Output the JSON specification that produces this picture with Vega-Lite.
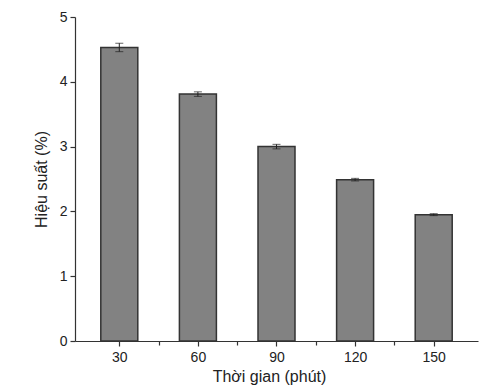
{
  "$schema": "https://vega.github.io/schema/vega-lite/v6.json",
  "autosize": {"type": "none"},
  "padding": {"left": 75, "top": 17, "right": 4, "bottom": 47},
  "width": 403,
  "height": 324,
  "background": "white",
  "config": {
    "view": {"stroke": null},
    "axis": {"labelFont": "Liberation Sans", "titleFont": "Liberation Sans", "labelColor": "#222", "titleColor": "#222", "domainColor": "#333", "tickColor": "#333", "grid": false, "titleFontWeight": "normal"}
  },
  "data": {
    "values": [
      {"time": 30, "value": 4.53, "err": 0.065},
      {"time": 60, "value": 3.81, "err": 0.035},
      {"time": 90, "value": 3.0, "err": 0.035},
      {"time": 120, "value": 2.49, "err": 0.02},
      {"time": 150, "value": 1.95, "err": 0.015}
    ]
  },
  "layer": [
    {
      "mark": {"type": "bar", "size": 37, "color": "#828282", "stroke": "#333", "strokeWidth": 1.5},
      "encoding": {
        "x": {
          "field": "time", "type": "quantitative", "title": "Thời gian (phút)",
          "scale": {"domain": [15, 165], "nice": false, "zero": false},
          "axis": {
            "values": [30, 45, 60, 75, 90, 105, 120, 135, 150],
            "labelExpr": "datum.value % 30 === 0 ? format(datum.value, 'd') : ''",
            "tickSize": {"condition": {"test": "datum.value % 30 === 0", "value": 5}, "value": 4},
            "labelFontSize": 14,
            "labelPadding": 4,
            "titleFontSize": 16,
            "titlePadding": 4,
            "titleX": 194,
            "domainWidth": 1.2,
            "tickWidth": 1.2
          }
        },
        "y": {
          "field": "value", "type": "quantitative", "title": "Hiệu suất (%)",
          "scale": {"domain": [0, 5], "nice": false},
          "axis": {
            "values": [0, 0.5, 1, 1.5, 2, 2.5, 3, 3.5, 4, 4.5, 5],
            "labelExpr": "datum.value % 1 === 0 ? format(datum.value, 'd') : ''",
            "tickSize": {"condition": {"test": "datum.value % 1 === 0", "value": 5}, "value": 4},
            "labelFontSize": 14,
            "labelPadding": 3,
            "titleFontSize": 16,
            "titlePadding": 10,
            "domainWidth": 1.2,
            "tickWidth": 1.2
          }
        }
      }
    },
    {
      "mark": {"type": "errorbar", "ticks": {"size": 8, "color": "#222"}, "rule": {"color": "#222"}},
      "encoding": {
        "x": {"field": "time", "type": "quantitative", "title": "Thời gian (phút)"},
        "y": {"field": "value", "type": "quantitative", "title": "Hiệu suất (%)"},
        "yError": {"field": "err"}
      }
    }
  ]
}
